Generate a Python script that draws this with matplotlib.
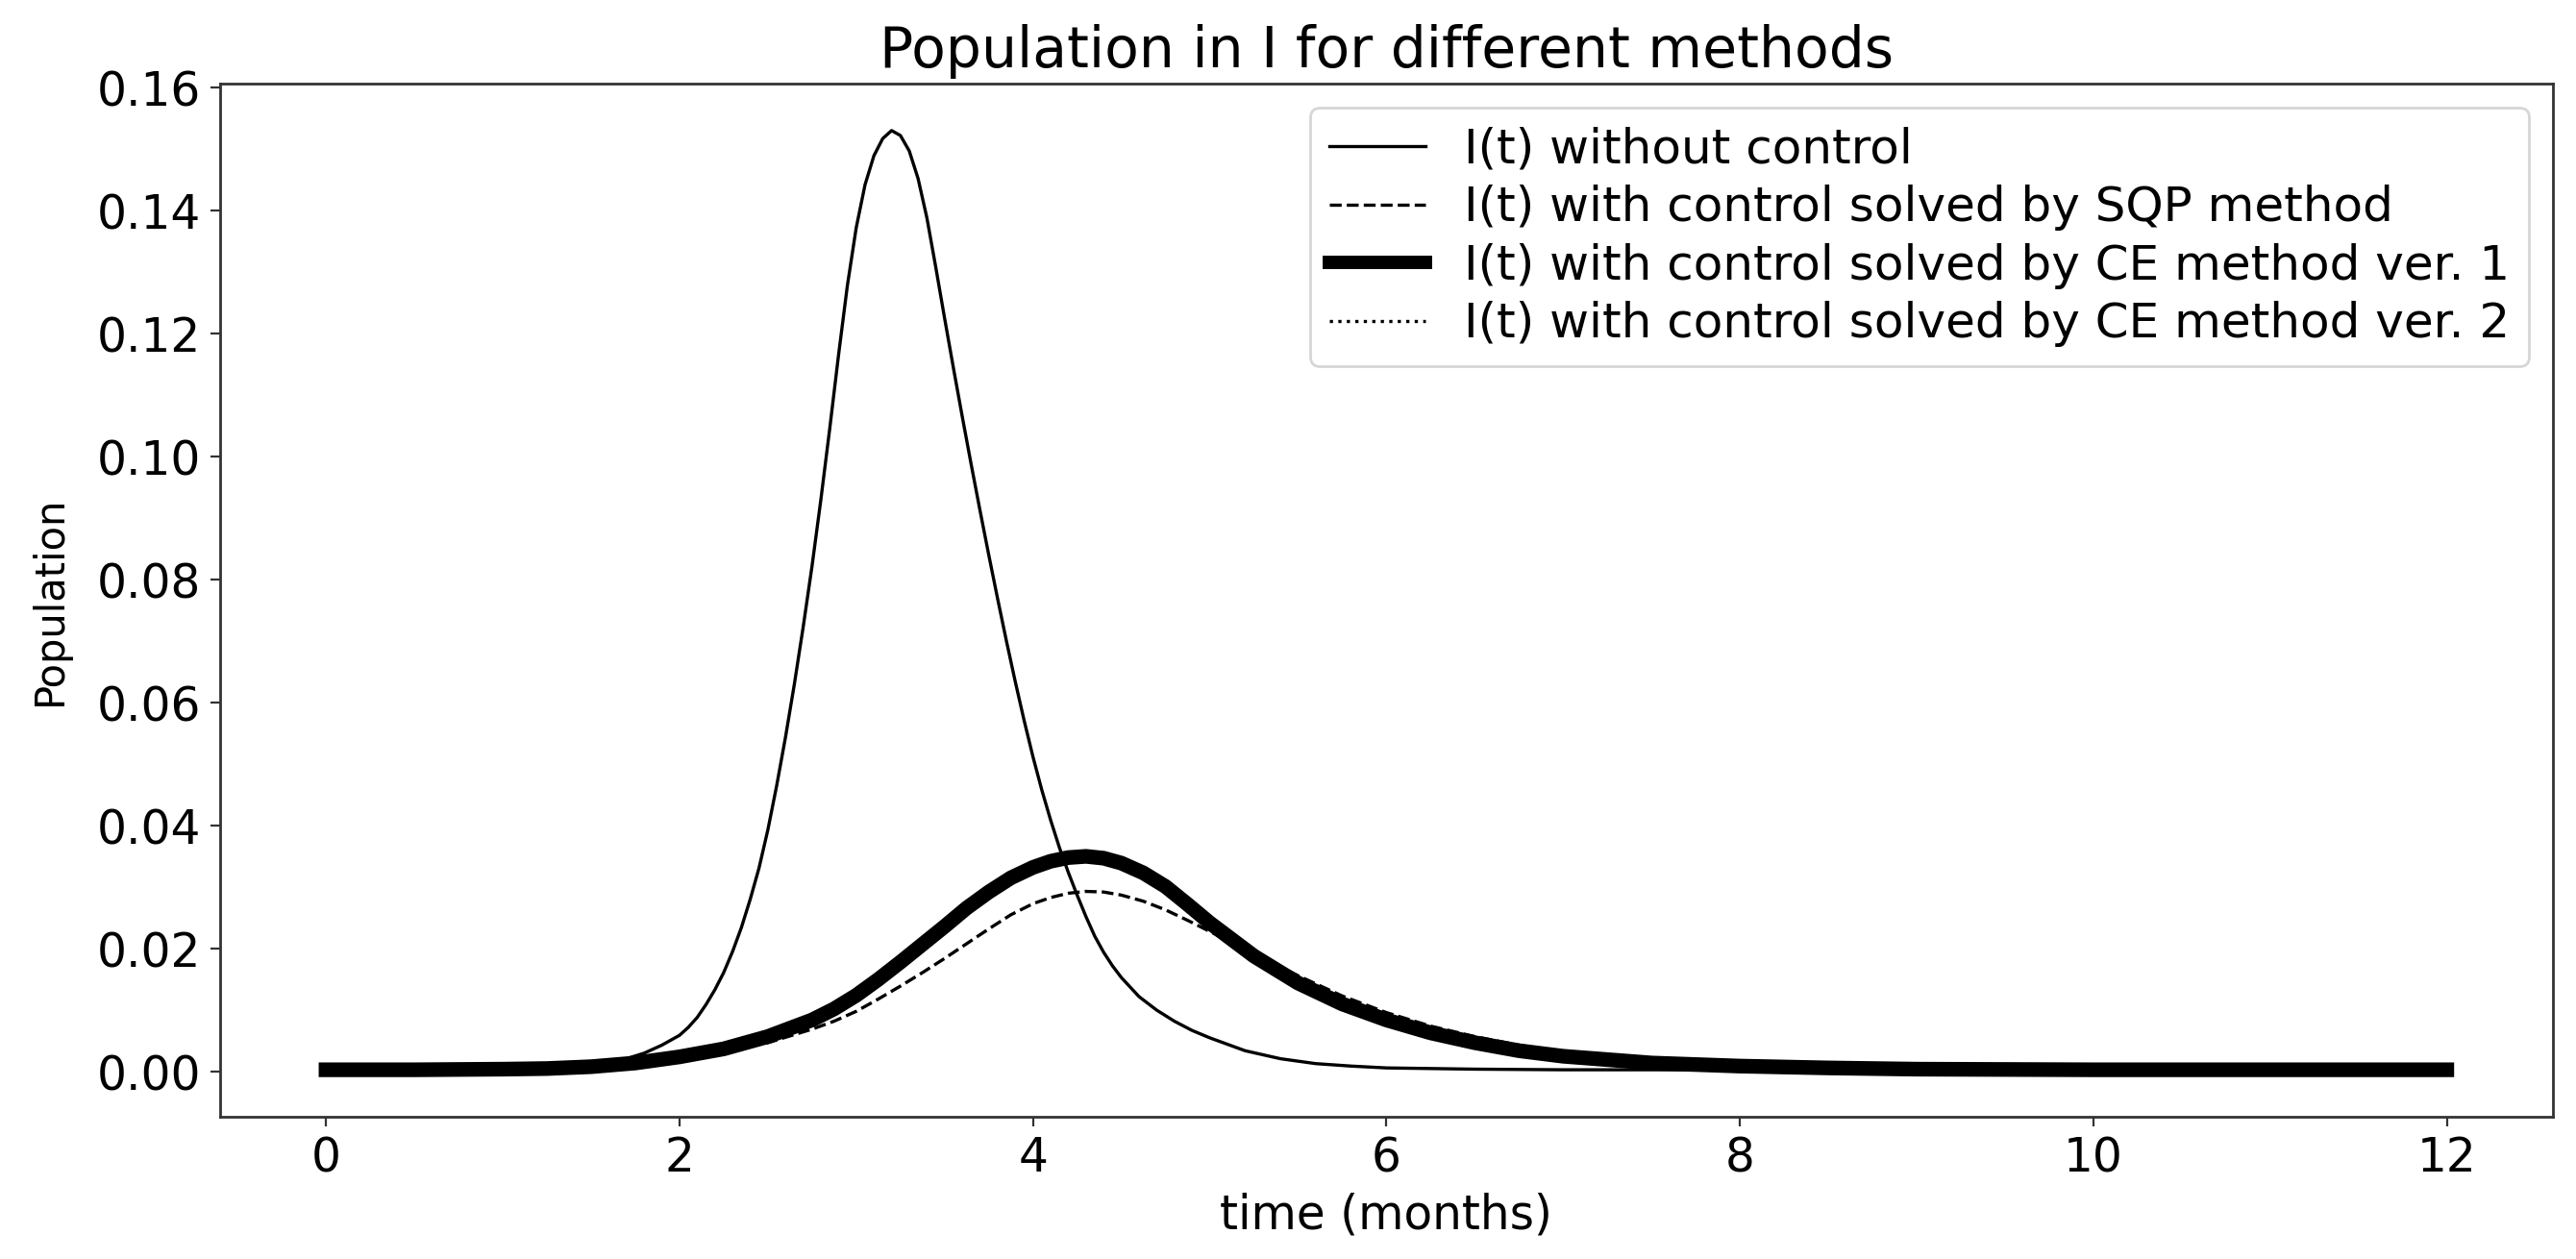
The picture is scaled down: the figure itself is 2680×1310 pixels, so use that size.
import matplotlib
matplotlib.use('Agg')
import matplotlib.pyplot as plt

# I(t) without control (months, fraction of population)
t_none = [0, 0.5, 1.0, 1.25, 1.5, 1.6, 1.7, 1.8, 1.9, 2.0, 2.05, 2.1, 2.15, 2.2,
          2.25, 2.3, 2.35, 2.4, 2.45, 2.5, 2.55, 2.6, 2.65, 2.7, 2.75, 2.8, 2.85,
          2.9, 2.95, 3.0, 3.05, 3.1, 3.15, 3.2, 3.25, 3.3, 3.35, 3.4, 3.45, 3.5,
          3.55, 3.6, 3.65, 3.7, 3.75, 3.8, 3.85, 3.9, 3.95, 4.0, 4.05, 4.1, 4.15,
          4.2, 4.25, 4.3, 4.35, 4.4, 4.45, 4.5, 4.6, 4.7, 4.8, 4.9, 5.0, 5.2, 5.4,
          5.6, 5.8, 6.0, 6.5, 7.0, 8.0, 9.0, 10.0, 11.0, 12.0]
i_none = [0.0003, 0.0003, 0.0004, 0.0006, 0.0010, 0.0014, 0.0021, 0.0030, 0.0043,
          0.0059, 0.0072, 0.0088, 0.0109, 0.0133, 0.0161, 0.0195, 0.0234, 0.0280,
          0.0331, 0.0393, 0.0465, 0.0544, 0.0630, 0.0723, 0.0822, 0.0930, 0.1045,
          0.1165, 0.1278, 0.1372, 0.1442, 0.1489, 0.1517, 0.1530, 0.1522, 0.1497,
          0.1452, 0.1388, 0.1308, 0.1225, 0.1144, 0.1065, 0.0988, 0.0913, 0.0840,
          0.0769, 0.0700, 0.0634, 0.0571, 0.0512, 0.0458, 0.0409, 0.0364, 0.0324,
          0.0287, 0.0252, 0.0220, 0.0194, 0.0172, 0.0153, 0.0122, 0.0100, 0.0082,
          0.0067, 0.0055, 0.0034, 0.0021, 0.0013, 0.0009, 0.0006, 0.0004, 0.0003,
          0.0003, 0.0003, 0.0003, 0.0003, 0.0003]

# controlled runs share one time grid
t_ctrl = [0, 0.5, 1.0, 1.25, 1.5, 1.75, 2.0, 2.25, 2.5, 2.75, 2.875, 3.0, 3.125,
          3.25, 3.375, 3.5, 3.625, 3.75, 3.875, 4.0, 4.1, 4.2, 4.3, 4.4, 4.5,
          4.625, 4.75, 4.875, 5.0, 5.25, 5.5, 5.75, 6.0, 6.25, 6.5, 6.75, 7.0,
          7.5, 8.0, 8.5, 9.0, 10.0, 11.0, 12.0]

# SQP method
i_sqp = [0.0003, 0.0003, 0.0004, 0.0005, 0.0008, 0.0013, 0.0022, 0.0033, 0.0047,
         0.0069, 0.0082, 0.0098, 0.0118, 0.0139, 0.0161, 0.0184, 0.0208, 0.0232,
         0.0255, 0.0273, 0.0283, 0.0290, 0.0293, 0.0292, 0.0287, 0.0277, 0.0263,
         0.0246, 0.0228, 0.0192, 0.0156, 0.0123, 0.0096, 0.0074, 0.0057, 0.0043,
         0.0032, 0.0018, 0.0011, 0.0007, 0.0005, 0.0003, 0.0003, 0.0003]

# CE method ver. 1
i_ce1 = [0.0003, 0.0003, 0.0004, 0.0005, 0.0008, 0.0014, 0.0024, 0.0037, 0.0057,
         0.0084, 0.0102, 0.0124, 0.0150, 0.0178, 0.0207, 0.0236, 0.0266, 0.0292,
         0.0315, 0.0332, 0.0342, 0.0348, 0.0350, 0.0347, 0.0339, 0.0323, 0.0301,
         0.0272, 0.0242, 0.0188, 0.0144, 0.0110, 0.0084, 0.0063, 0.0047, 0.0034,
         0.0025, 0.0014, 0.0009, 0.0006, 0.0004, 0.0003, 0.0003, 0.0003]

# CE method ver. 2 (sits under ver. 1)
i_ce2 = [0.0003, 0.0003, 0.0004, 0.0005, 0.0008, 0.0014, 0.0023, 0.0036, 0.0056,
         0.0083, 0.0101, 0.0123, 0.0149, 0.0177, 0.0206, 0.0235, 0.0265, 0.0291,
         0.0314, 0.0331, 0.0341, 0.0347, 0.0349, 0.0346, 0.0338, 0.0322, 0.0300,
         0.0272, 0.0243, 0.0189, 0.0145, 0.0111, 0.0085, 0.0064, 0.0048, 0.0035,
         0.0025, 0.0014, 0.0009, 0.0006, 0.0004, 0.0003, 0.0003, 0.0003]

fig = plt.figure(figsize=(13.4, 6.55), dpi=200)
ax = fig.add_axes([0.0854, 0.113, 0.9056, 0.8206])

ax.plot(t_none, i_none, color='black', linewidth=1.2, label='I(t) without control')
ax.plot(t_ctrl, i_sqp, color='black', linestyle='--', linewidth=1.2,
        label='I(t) with control solved by SQP method')
ax.plot(t_ctrl, i_ce1, color='black', linewidth=5.5, solid_joinstyle='round',
        label='I(t) with control solved by CE method ver. 1')
ax.plot(t_ctrl, i_ce2, color='black', linestyle=':', linewidth=1.2,
        label='I(t) with control solved by CE method ver. 2')

ax.set_title('Population in I for different methods', fontsize=21)
ax.set_xlabel('time (months)', fontsize=17.5)
ax.set_ylabel('Population', fontsize=15, labelpad=10)
ax.tick_params(labelsize=17.5, color='#333333')
for s in ax.spines.values():
    s.set_color('#333333')
    s.set_linewidth(1.0)

leg = ax.legend(loc='upper right', fontsize=18, labelspacing=0.25)
for line in leg.get_lines():
    if line.get_linewidth() > 3:
        line.set_linewidth(5)

fig.savefig('out.png', dpi=200)
